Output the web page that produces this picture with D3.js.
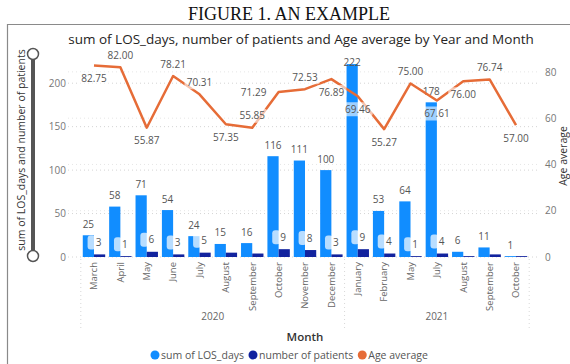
<!DOCTYPE html>
<html><head><meta charset="utf-8">
<script src="https://cdn.jsdelivr.net/npm/d3@7"></script>
<style>
html,body{margin:0;padding:0;background:#fff;}
svg{display:block;}
</style></head>
<body>
<svg id="c" width="570" height="364"></svg>
<script>
// ---- data ----
const months = ["March","April","May","June","July","August","September","October","November","December","January","February","May","July","August","September","October"];
const years = ["2020","2020","2020","2020","2020","2020","2020","2020","2020","2020","2021","2021","2021","2021","2021","2021","2021"];
const losDays = [25,58,71,54,24,15,16,116,111,100,222,53,64,178,6,11,1];
const patients = [3,1,6,3,5,5,4,9,8,3,9,4,1,4,1,3,1];
const ageAvg = [82.75,82.00,55.87,78.21,70.31,57.35,55.85,71.29,72.53,76.89,69.46,55.27,75.00,67.61,76.00,76.74,57.00];
const leftTicks = [0,50,100,150,200];
const rightTicks = [0,20,40,60,80];
const yearLabels = ["2020","2021"];
// label layout (style)
const patientLabelVisible = [1,1,1,1,1,0,0,1,1,1,1,1,1,1,0,0,0];
const ageLabelPlace = ["below","above","below","above","above","below","above","left","above","below","below","below","above","below","below","above","below"];

const C_LOS = "#118DFF", C_PAT = "#12239E", C_AGE = "#E66C37";
const FONT = "'Open Sans', 'DejaVu Sans', sans-serif";

const svg = d3.select("#c");
const idx = d3.range(months.length);

// frame
svg.append("path").attr("d","M7.5,364 V24.5 H570").attr("fill","none").attr("stroke","#8a8a8a").attr("stroke-width",1.2);

// figure caption
svg.append("text").attr("x",289).attr("y",20).attr("text-anchor","middle")
  .attr("font-family","'Liberation Serif','Times New Roman',serif").attr("font-size",18).attr("fill","#111")
  .text("FIGURE 1. AN EXAMPLE");

// chart title
svg.append("text").attr("x",301).attr("y",44).attr("text-anchor","middle")
  .attr("font-family",FONT).attr("font-size",13.5).attr("fill","#252423")
  .text("sum of LOS_days, number of patients and Age average by Year and Month");

const x = d3.scaleBand().domain(idx).range([80.8,529.2]).paddingInner(0.15).paddingOuter(0.075);
const xs = d3.scaleBand().domain(["los","pat"]).range([0, x.bandwidth()]);
const yL = d3.scaleLinear().domain([0,229]).range([257,58]);
const yR = d3.scaleLinear().domain([0,86]).range([257,58]);

// gridlines
svg.append("g").selectAll("line").data(leftTicks).join("line")
  .attr("x1",68).attr("x2",540).attr("y1",d=>yL(d)).attr("y2",d=>yL(d))
  .attr("stroke","#d4d4d4").attr("stroke-dasharray","1,3").attr("stroke-width",1);
svg.append("g").selectAll("line").data(rightTicks.filter(d=>d>0)).join("line")
  .attr("x1",68).attr("x2",540).attr("y1",d=>yR(d)).attr("y2",d=>yR(d))
  .attr("stroke","#e6e6e6").attr("stroke-dasharray","1,3").attr("stroke-width",1);

// left axis labels
const axL = d3.axisLeft(yL).tickValues(leftTicks).tickSize(0).tickPadding(0);
const gL = svg.append("g").attr("transform","translate(66,0)").call(axL);
gL.select(".domain").remove();
gL.selectAll("text").attr("font-family",FONT).attr("font-size",10).attr("fill","#777");

const axR = d3.axisRight(yR).tickValues(rightTicks).tickSize(0).tickPadding(0);
const gR = svg.append("g").attr("transform","translate(545,0)").call(axR);
gR.select(".domain").remove();
gR.selectAll("text").attr("font-family",FONT).attr("font-size",10).attr("fill","#777");

// axis titles
svg.append("text").attr("transform","translate(21,150) rotate(-90)").attr("text-anchor","middle")
  .attr("dy","0.35em").attr("font-family",FONT).attr("font-size",10.5).attr("fill","#333")
  .text("sum of LOS_days and number of patients");
svg.append("text").attr("transform","translate(563,156) rotate(-90)").attr("text-anchor","middle")
  .attr("dy","0.35em").attr("font-family",FONT).attr("font-size",10.5).attr("fill","#333")
  .text("Age average");

// slider
svg.append("line").attr("x1",33).attr("x2",33).attr("y1",54).attr("y2",256)
  .attr("stroke","#555").attr("stroke-width",4);
svg.selectAll("circle.sl").data([54,256]).join("circle").attr("class","sl")
  .attr("cx",33).attr("cy",d=>d).attr("r",5.5).attr("fill","#fff").attr("stroke","#555").attr("stroke-width",1.5);

// bars
const bars = svg.append("g");
bars.selectAll("rect.los").data(idx).join("rect").attr("class","los")
  .attr("x",i=>x(i)+xs("los")).attr("width",xs.bandwidth())
  .attr("y",i=>yL(losDays[i])).attr("height",i=>yL(0)-yL(losDays[i])).attr("fill",C_LOS);
bars.selectAll("rect.pat").data(idx).join("rect").attr("class","pat")
  .attr("x",i=>x(i)+xs("pat")).attr("width",xs.bandwidth())
  .attr("y",i=>yL(patients[i])).attr("height",i=>yL(0)-yL(patients[i])).attr("fill",C_PAT);

// x axis categories
const xaxis = svg.append("g");
xaxis.selectAll("text.m").data(idx).join("text").attr("class","m")
  .attr("transform",i=>`translate(${x(i)+x.bandwidth()/2},262) rotate(-90)`)
  .attr("text-anchor","end").attr("dy","0.35em")
  .attr("font-family",FONT).attr("font-size",9.5).attr("fill","#666").text(i=>months[i]);
// year groups
const groups = yearLabels.map(y=>{const ii=idx.filter(i=>years[i]===y);return {y, a:ii[0], b:ii[ii.length-1]};});
const seps = [x.range()[0], (x(groups[0].b)+x.bandwidth()+x(groups[1].a))/2, x.range()[1]];
xaxis.selectAll("line.sep").data(seps).join("line").attr("class","sep")
  .attr("x1",d=>d).attr("x2",d=>d).attr("y1",259).attr("y2",328)
  .attr("stroke","#d8d8d8").attr("stroke-dasharray","1,3");
xaxis.selectAll("text.yr").data(groups).join("text").attr("class","yr")
  .attr("x",g=>(x(g.a)+x(g.b)+x.bandwidth())/2).attr("y",320).attr("text-anchor","middle")
  .attr("font-family",FONT).attr("font-size",10).attr("fill","#666").text(g=>g.y);
svg.append("text").attr("x",305).attr("y",341).attr("text-anchor","middle")
  .attr("font-family",FONT).attr("font-size",11.5).attr("font-weight",600).attr("fill","#333").text("Month");

// LOS labels
svg.append("g").selectAll("text").data(idx).join("text")
  .attr("x",i=>x(i)+xs("los")+xs.bandwidth()/2)
  .attr("y",i=>Math.max(yL(losDays[i])-11,62)).attr("dy","0.35em").attr("text-anchor","middle")
  .attr("font-family",FONT).attr("font-size",10).attr("fill","#555").text(i=>losDays[i]);

// patient labels with translucent boxes
const pl = svg.append("g").selectAll("g").data(idx.filter(i=>patientLabelVisible[i])).join("g")
  .attr("transform",i=>`translate(${x(i)+xs("pat")+xs.bandwidth()/2-1},${yL(patients[i])-12})`);
pl.append("rect").attr("x",-11).attr("y",-7).attr("width",8).attr("height",14).attr("rx",3)
  .attr("fill","#fff").attr("opacity",0.7);
pl.append("text").attr("dy","0.35em").attr("text-anchor","middle")
  .attr("font-family",FONT).attr("font-size",10).attr("fill","#555").text(i=>patients[i]);

// age line
const cx = i=>x(i)+x.bandwidth()/2;
svg.append("path").datum(idx)
  .attr("d",d3.line().x(cx).y(i=>yR(ageAvg[i])))
  .attr("fill","none").attr("stroke",C_AGE).attr("stroke-width",2.5).attr("stroke-linejoin","round");

// age labels
const fmt = d3.format(".2f");
const al = svg.append("g").selectAll("g").data(idx).join("g")
  .attr("transform",i=>{
    const p = ageLabelPlace[i], px=cx(i), py=yR(ageAvg[i]);
    if(p==="above") return `translate(${px},${py-12})`;
    if(p==="below") return `translate(${px},${py+13})`;
    return `translate(${px-25},${py})`;
  });
al.append("rect").attr("x",-15).attr("y",-7).attr("width",30).attr("height",14).attr("rx",3)
  .attr("fill","#fff").attr("opacity",0.6);
al.append("text").attr("dy","0.35em").attr("text-anchor","middle")
  .attr("font-family",FONT).attr("font-size",10).attr("fill","#555").text(i=>fmt(ageAvg[i]));

// legend
const legend = [{n:"sum of LOS_days",c:C_LOS},{n:"number of patients",c:C_PAT},{n:"Age average",c:C_AGE}];
const lg = svg.append("g").attr("transform","translate(155,355)");
let off = 0;
legend.forEach(l=>{
  const g = lg.append("g").attr("transform",`translate(${off},0)`);
  g.append("circle").attr("r",4.5).attr("fill",l.c);
  const t = g.append("text").attr("x",6).attr("dy","0.35em").attr("font-family",FONT)
    .attr("font-size",10.5).attr("fill","#555").text(l.n);
  off += 6 + t.node().getComputedTextLength() + 9;
});
</script>
</body></html>
